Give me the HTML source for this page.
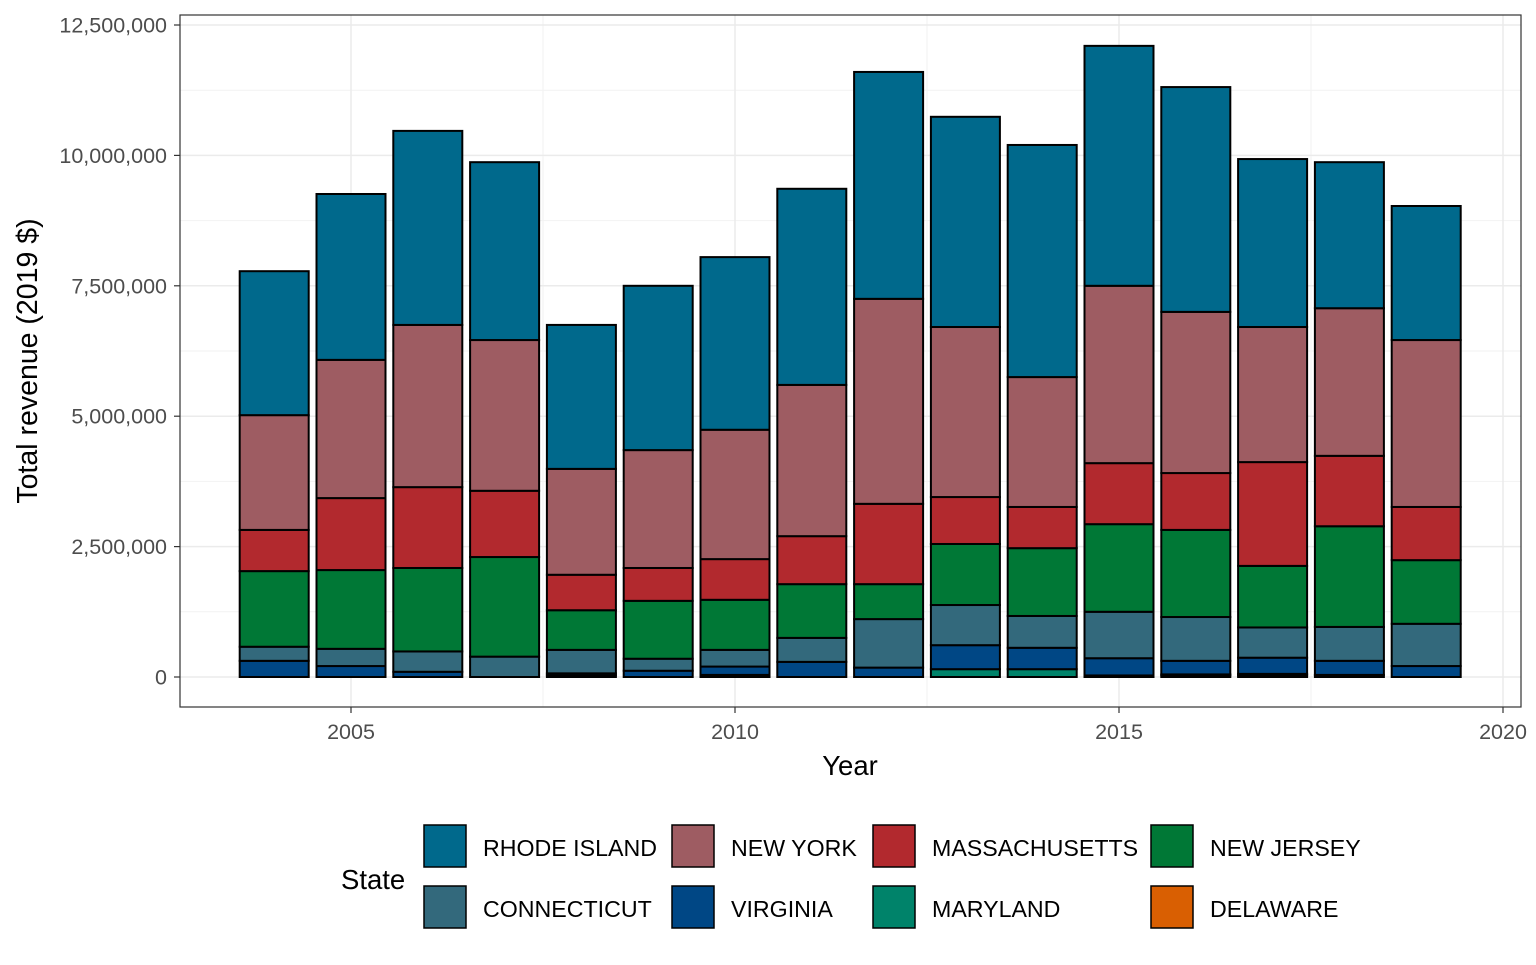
<!DOCTYPE html>
<html><head><meta charset="utf-8"><style>
body{margin:0;background:#fff;font-family:"Liberation Sans",Arial,sans-serif}
</style></head><body>
<svg id="chart" width="1536" height="960" xmlns="http://www.w3.org/2000/svg" font-family="Liberation Sans, Arial, sans-serif">
<g id="grid"></g><g id="bars"></g><g id="axes"></g><g id="legend"></g>
</svg>
<script>
const years=[2004,2005,2006,2007,2008,2009,2010,2011,2012,2013,2014,2015,2016,2017,2018,2019];
const states=["DELAWARE","MARYLAND","VIRGINIA","CONNECTICUT","NEW JERSEY","MASSACHUSETTS","NEW YORK","RHODE ISLAND"];
const colors=["#d95f02","#00836a","#004785","#33697c","#007836","#b2292e","#9e5c62","#00698c"];
const DE=[0,0,0,0,0.03,0,0.04,0,0,0,0,0.03,0.03,0.03,0.04,0];
const MD=[0,0,0,0,0,0,0,0,0,0.15,0.15,0,0.02,0.03,0,0];
const VA=[0.31,0.21,0.10,0,0.04,0.12,0.16,0.29,0.18,0.46,0.41,0.33,0.26,0.31,0.27,0.21];
const CT=[0.27,0.33,0.39,0.39,0.45,0.23,0.32,0.46,0.93,0.77,0.61,0.89,0.84,0.58,0.65,0.81];
const NJ=[1.45,1.51,1.60,1.91,0.76,1.11,0.96,1.03,0.67,1.17,1.30,1.68,1.67,1.18,1.93,1.22];
const MA=[0.79,1.38,1.55,1.27,0.68,0.63,0.78,0.92,1.54,0.90,0.79,1.17,1.09,1.99,1.35,1.02];
const NY=[2.20,2.65,3.11,2.89,2.03,2.26,2.48,2.90,3.93,3.26,2.49,3.40,3.09,2.59,2.83,3.20];
const RI=[2.76,3.18,3.72,3.41,2.76,3.15,3.31,3.76,4.35,4.03,4.45,4.60,4.31,3.22,2.80,2.57];
const series=[DE,MD,VA,CT,NJ,MA,NY,RI];
const yTicks=[0,2.5,5,7.5,10,12.5];
const yTickLabels=["0","2,500,000","5,000,000","7,500,000","10,000,000","12,500,000"];
const xTicks=[2005,2010,2015,2020];

const NS="http://www.w3.org/2000/svg";
const px0=180,px1=1521,py0=15,py1=707;
const yS=v=>677-v*52.16;
const xS=t=>351+(t-2005)*76.8;
function mk(tag,attrs,parent,text){const e=document.createElementNS(NS,tag);for(const k in attrs)e.setAttribute(k,attrs[k]);if(text!==undefined)e.textContent=text;parent.appendChild(e);return e;}
const grid=document.getElementById('grid'),bars=document.getElementById('bars'),axes=document.getElementById('axes'),legend=document.getElementById('legend');
mk('rect',{x:px0,y:py0,width:px1-px0,height:py1-py0,fill:'#fff'},grid);
for(let i=0;i<yTicks.length-1;i++){const m=(yTicks[i]+yTicks[i+1])/2;const l=mk('line',{x1:px0,x2:px1,y1:yS(m),y2:yS(m),stroke:'#f2f2f2','stroke-width':1},grid);}
[2007.5,2012.5,2017.5].forEach(t=>{const l=mk('line',{x1:xS(t),x2:xS(t),y1:py0,y2:py1,stroke:'#f2f2f2','stroke-width':1},grid);});
yTicks.forEach(v=>{const l=mk('line',{x1:px0,x2:px1,y1:yS(v),y2:yS(v),stroke:'#ebebeb','stroke-width':1.5},grid);});
xTicks.forEach(t=>{const l=mk('line',{x1:xS(t),x2:xS(t),y1:py0,y2:py1,stroke:'#ebebeb','stroke-width':1.5},grid);});
const bw=69;
years.forEach((yr,i)=>{let cum=0;series.forEach((s,j)=>{const v=s[i];if(v<=0)return;const r=mk('rect',{x:xS(yr)-bw/2,y:yS(cum+v),width:bw,height:v*52.16,fill:colors[j],stroke:'#000','stroke-width':2},bars);cum+=v;});});
const border=mk('rect',{x:px0,y:py0,width:px1-px0,height:py1-py0,fill:'none',stroke:'#333','stroke-width':1.2},axes);

yTicks.forEach((v,i)=>{mk('line',{x1:px0-6,x2:px0,y1:yS(v),y2:yS(v),stroke:'#333','stroke-width':1.2},axes);const t=mk('text',{x:px0-13,y:yS(v)+7.5,'text-anchor':'end','font-size':21.5,fill:'#4d4d4d'},axes,yTickLabels[i]);});
xTicks.forEach(v=>{mk('line',{x1:xS(v),x2:xS(v),y1:py1,y2:py1+6,stroke:'#333','stroke-width':1.2},axes);const t=mk('text',{x:xS(v),y:739,'text-anchor':'middle','font-size':21.5,fill:'#4d4d4d'},axes,String(v));});
const xt=mk('text',{x:850,y:775,'text-anchor':'middle','font-size':27.5,fill:'#000'},axes,'Year');
const yt=mk('text',{x:0,y:0,'text-anchor':'middle','font-size':28.5,fill:'#000',transform:'translate(37,361) rotate(-90)'},axes,'Total revenue (2019 $)');
const lt=mk('text',{x:341,y:889,'font-size':27.5,fill:'#000'},legend,'State');
const cols=[424,672,873,1151];
const order=[7,6,5,4,3,2,1,0];
order.forEach((j,k)=>{const c=k%4,r=Math.floor(k/4);const x=cols[c],y=825+r*61;const g=mk('g',{},legend);mk('rect',{x:x,y:y,width:42,height:42,fill:colors[j],stroke:'#000','stroke-width':1.5},g);mk('text',{x:x+59,y:y+31,'font-size':23.2,fill:'#000'},g,states[j]);});
</script>
</body></html>
